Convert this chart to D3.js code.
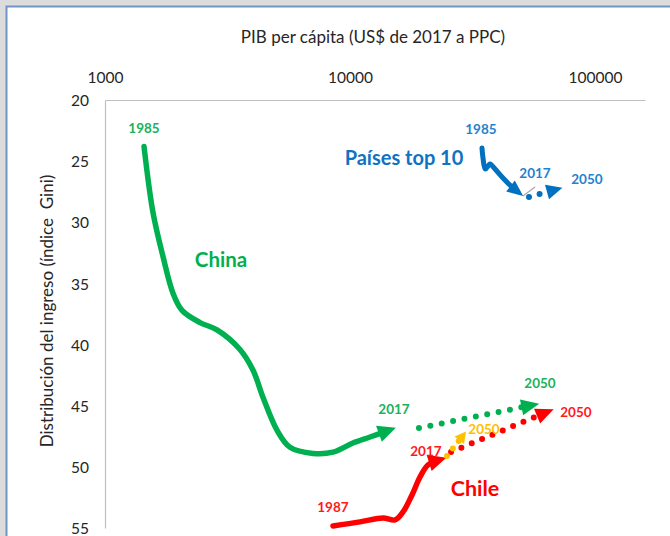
<!DOCTYPE html>
<html>
<head>
<meta charset="utf-8">
<script src="https://cdn.jsdelivr.net/npm/d3@7/dist/d3.min.js"></script>
<style>
  html, body { margin: 0; padding: 0; background: #fff; }
  svg { display: block; font-family: Lato, "Open Sans", sans-serif; }
</style>
</head>
<body>
<div id="chart"></div>
<script>
(function () {
  // ── Data (PIB per cápita, índice Gini) ─────────────────────────────────────

  const X_TICKS = [1000, 10000, 100000];
  const Y_TICKS = [20, 25, 30, 35, 40, 45, 50, 55];

  const CHINA_PATH = [
    [1443, 23.8], [1570, 29.2], [1725, 32.8], [1895, 35.8], [2063, 37.2],
    [2443, 38.2], [2865, 38.8], [3555, 40.4], [4021, 42.1], [4413, 44.3],
    [5035, 47.0], [5690, 48.4], [7063, 48.9], [8520, 48.8], [10280, 48.05],
    [12070, 47.56], [14340, 47.02]
  ];
  const CHINA_PROJ = [[19120, 46.82], [50150, 45.13]];

  const CHILE_PATH = [
    [8520, 54.83], [10990, 54.5], [13640, 54.18], [15270, 54.34], [16460, 53.69],
    [17910, 52.3], [19310, 50.83], [20800, 49.85], [23010, 49.44]
  ];
  const CHILE_PROJ     = [[25850, 48.78], [58030, 45.85]];
  const CHILE_PROJ_ALT = [[24880, 49.11], [27930, 47.82]];

  const TOP10_PATH = [
    [34570, 23.92], [34900, 24.74], [35700, 25.65], [37280, 25.23], [38350, 25.45],
    [42120, 26.38], [45830, 27.11], [48310, 27.49]
  ];
  const TOP10_PROJ = [[53780, 27.93], [63700, 27.52]];
  const TOP10_LINK = [[50840, 27.85], [56900, 27.11]];

  // text, gdp, gini, kind
  const LABELS = [
    ['1985', 1443, 22.29, 'china'],
    ['China', 2975, 33.08, 'chinaBig'],
    ['2017', 15120, 45.27, 'china'],
    ['2050', 59640, 43.14, 'china'],
    ['1987', 8520, 53.28, 'chile'],
    ['2017', 20420, 48.7, 'chile'],
    ['2050', 83600, 45.51, 'chile'],
    ['Chile', 32370, 51.73, 'chileBig'],
    ['2050', 35240, 46.9, 'alt'],
    ['1985', 34240, 22.37, 'top10'],
    ['2017', 56900, 25.97, 'top10'],
    ['2050', 92700, 26.46, 'top10'],
    ['Países top 10', 16610, 24.74, 'top10Big']
  ];

  const COLORS = {
    china: '#00B050', chile: '#FF0000', top10: '#0070C0', alt: '#FFC000'
  };
  const LABEL_STYLE = {
    china:    { fill: '#21B158', size: 13.5 },
    chinaBig: { fill: '#00B050', size: 20.5 },
    chile:    { fill: '#FF1A1A', size: 13.5 },
    chileBig: { fill: '#FF0000', size: 21.5 },
    alt:      { fill: '#FFC000', size: 13.5 },
    top10:    { fill: '#1F83CF', size: 13.5 },
    top10Big: { fill: '#0F72C2', size: 20 }
  };

  // ── Layout ────────────────────────────────────────────────────────────────

  const W = 670, H = 536;
  const PLOT = { left: 105, right: 645, top: 100, bottom: 528 };

  const svg = d3.select('#chart').append('svg')
    .attr('width', W).attr('height', H);

  // window frame
  svg.append('rect').attr('x', 0).attr('y', 0).attr('width', W).attr('height', 6).attr('fill', '#dcdcdc');
  svg.append('rect').attr('x', 0).attr('y', 0).attr('width', 6).attr('height', H).attr('fill', '#dcdcdc');
  svg.append('path').attr('d', 'M6.5,' + H + 'V6.5H' + W)
    .attr('fill', 'none').attr('stroke', '#7096c6').attr('stroke-width', 2);

  const x = d3.scaleLog().domain([1000, 160000]).range([PLOT.left, PLOT.right]);
  const y = d3.scaleLinear().domain([20, 55]).range([PLOT.top, PLOT.bottom]);

  // axes
  const xAxis = svg.append('g')
    .attr('transform', 'translate(0,' + PLOT.top + ')')
    .call(d3.axisTop(x).tickValues(X_TICKS).tickFormat(d3.format('d'))
      .tickSize(0).tickSizeOuter(0).tickPadding(17));

  const yAxis = svg.append('g')
    .attr('transform', 'translate(' + PLOT.left + ',0)')
    .call(d3.axisLeft(y).tickValues(Y_TICKS)
      .tickSize(0).tickSizeOuter(0).tickPadding(16));

  [xAxis, yAxis].forEach(function (g) {
    g.select('.domain').attr('stroke', '#bfbfbf').attr('stroke-width', 1.2);
    g.selectAll('text').attr('font-size', 15.5).attr('fill', '#262626')
      .attr('font-family', 'Lato, sans-serif');
  });
  yAxis.selectAll('text').attr('dy', '0.36em');

  svg.append('text')
    .attr('x', 373).attr('y', 43)
    .attr('text-anchor', 'middle')
    .attr('font-size', 17).attr('fill', '#262626')
    .text('PIB per cápita (US$ de 2017 a PPC)');

  svg.append('text')
    .attr('transform', 'translate(53,311) rotate(-90)')
    .attr('text-anchor', 'middle')
    .attr('font-size', 17).attr('fill', '#262626')
    .attr('xml:space', 'preserve')
    .text('Distribución del ingreso (índice  Gini)');

  // ── Arrow markers ─────────────────────────────────────────────────────────

  const defs = svg.append('defs');
  function marker(id, color, len, half, ref) {
    defs.append('marker')
      .attr('id', id)
      .attr('viewBox', [-1, -half - 1, len + 2, half * 2 + 2])
      .attr('refX', ref).attr('refY', 0)
      .attr('markerUnits', 'userSpaceOnUse')
      .attr('markerWidth', len + 2).attr('markerHeight', half * 2 + 2)
      .attr('orient', 'auto')
      .append('path')
      .attr('d', 'M0,' + (-half) + 'L' + len + ',0L0,' + half + 'Z')
      .attr('fill', color);
  }
  marker('arr-china', COLORS.china, 18, 8.5, 10);
  marker('arr-china-p', COLORS.china, 18, 8, 0);
  marker('arr-chile', COLORS.chile, 18, 8.5, 10);
  marker('arr-chile-p', COLORS.chile, 18, 8, 0);
  marker('arr-alt', COLORS.alt, 11, 6, 0);
  marker('arr-top10', COLORS.top10, 16, 7, 9);
  marker('arr-top10-p', COLORS.top10, 16, 7.5, 0);

  // ── Lines ─────────────────────────────────────────────────────────────────

  const line = d3.line()
    .x(function (d) { return x(d[0]); })
    .y(function (d) { return y(d[1]); })
    .curve(d3.curveCatmullRom.alpha(0.5));

  const straight = d3.line()
    .x(function (d) { return x(d[0]); })
    .y(function (d) { return y(d[1]); });

  function solid(data, color, mk, width) {
    svg.append('path').datum(data)
      .attr('d', line)
      .attr('fill', 'none')
      .attr('stroke', color)
      .attr('stroke-width', width)
      .attr('stroke-linecap', 'round')
      .attr('stroke-linejoin', 'round')
      .attr('marker-end', 'url(#' + mk + ')');
  }

  function dotted(data, color, mk, width, gap) {
    svg.append('path').datum(data)
      .attr('d', straight)
      .attr('fill', 'none')
      .attr('stroke', color)
      .attr('stroke-width', width)
      .attr('stroke-linecap', 'round')
      .attr('stroke-dasharray', '0 ' + gap)
      .attr('marker-end', 'url(#' + mk + ')');
  }

  solid(CHINA_PATH, COLORS.china, 'arr-china', 5.5);
  dotted(CHINA_PROJ, COLORS.china, 'arr-china-p', 6, 11.6);

  solid(CHILE_PATH, COLORS.chile, 'arr-chile', 5.5);
  dotted(CHILE_PROJ, COLORS.chile, 'arr-chile-p', 6, 11.2);
  dotted(CHILE_PROJ_ALT, COLORS.alt, 'arr-alt', 6, 9.5);

  svg.append('path').datum(TOP10_LINK)
    .attr('d', straight)
    .attr('fill', 'none').attr('stroke', '#a6a6a6').attr('stroke-width', 1.2);
  solid(TOP10_PATH, COLORS.top10, 'arr-top10', 5);
  dotted(TOP10_PROJ, COLORS.top10, 'arr-top10-p', 6, 11);

  // ── Labels ────────────────────────────────────────────────────────────────

  svg.append('g').selectAll('text')
    .data(LABELS)
    .join('text')
    .attr('x', function (d) { return x(d[1]); })
    .attr('y', function (d) { return y(d[2]); })
    .attr('dy', '0.35em')
    .attr('text-anchor', 'middle')
    .attr('font-weight', 'bold')
    .attr('font-size', function (d) { return LABEL_STYLE[d[3]].size; })
    .attr('fill', function (d) { return LABEL_STYLE[d[3]].fill; })
    .text(function (d) { return d[0]; });
})();
</script>
</body>
</html>
